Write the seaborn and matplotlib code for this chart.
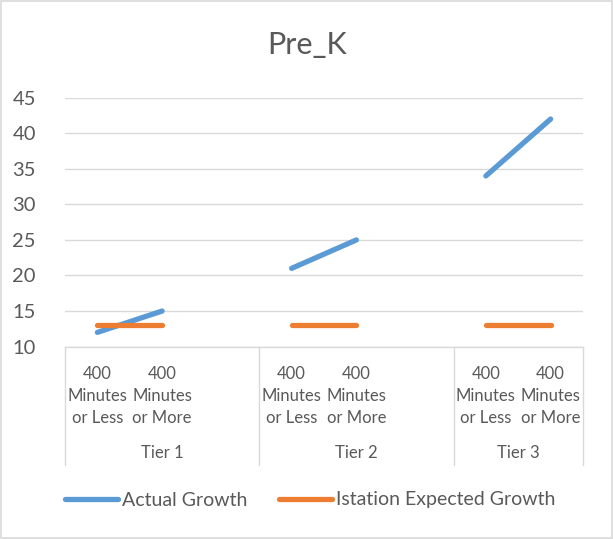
import matplotlib
matplotlib.use("Agg")
import matplotlib.pyplot as plt
import matplotlib.transforms as mtransforms
from matplotlib.patches import Rectangle
import numpy as np
import pandas as pd
import seaborn as sns

# ---- data ----
tiers = ["Tier 1", "Tier 2", "Tier 3"]
groups = ["400\nMinutes\nor Less", "400\nMinutes\nor More"]
actual_growth = [12, 15, 21, 25, 34, 42]
expected_growth = [13, 13, 13, 13, 13, 13]
series_names = ["Actual Growth", "Istation Expected Growth"]
y_ticks = [10, 15, 20, 25, 30, 35, 40, 45]

# category slots: each tier has its two groups, tiers 1 and 2 followed by an empty slot
slot_labels = []
slot_tier = []
for i, t in enumerate(tiers):
    for g in groups:
        slot_labels.append(g)
        slot_tier.append(t)
    if i < len(tiers) - 1:
        slot_labels.append("")
        slot_tier.append(t)
slot_pos = list(range(len(slot_labels)))
data_pos = [p for p, lab in zip(slot_pos, slot_labels) if lab != ""]
data_tier = [t for t, lab in zip(slot_tier, slot_labels) if lab != ""]

rows = []
for name, vals in zip(series_names, [actual_growth, expected_growth]):
    for p, t, v in zip(data_pos, data_tier, vals):
        rows.append({"pos": p, "tier": t, "value": v, "series": name})
df = pd.DataFrame(rows)

sns.set_theme(style="white")
FONT = ["Lato", "DejaVu Sans"]
plt.rcParams["font.family"] = FONT
TXT = "#595959"
GRID = "#D9D9D9"
colors = {"Actual Growth": "#5B9BD5", "Istation Expected Growth": "#ED7D31"}

fig = plt.figure(figsize=(6.13, 5.39), dpi=100)
W, H = 613, 539
left, right, top, bottom = 65, 583, 97.7, 346.6
ax = fig.add_axes([left / W, 1 - bottom / H, (right - left) / W, (bottom - top) / H])

sns.lineplot(data=df, x="pos", y="value", hue="series", units="tier",
             estimator=None, palette=colors, linewidth=3.8, ax=ax,
             solid_capstyle="round", legend=False)

ax.set_xlim(-0.5, len(slot_labels) - 0.5)
ax.set_ylim(min(y_ticks), max(y_ticks))
ax.set_yticks(y_ticks)
ax.set_yticklabels([str(v) for v in y_ticks], fontsize=14.5, color=TXT)
ax.tick_params(axis="y", length=0, pad=21)
ax.yaxis.grid(True, color=GRID, linewidth=1)
ax.set_axisbelow(True)
ax.set_xticks(slot_pos)
ax.set_xticklabels(slot_labels, fontsize=12, color=TXT, linespacing=1.45, va="top")
ax.tick_params(axis="x", length=0, pad=14)
ax.set_xlabel("")
ax.set_ylabel("")
for s in ["top", "right", "left"]:
    ax.spines[s].set_visible(False)
ax.spines["bottom"].set_color(GRID)
ax.spines["bottom"].set_linewidth(1)

# multi-level axis: separators and tier labels
trans = mtransforms.blended_transform_factory(ax.transData, ax.transAxes)
axh = bottom - top
sep_bottom = -(465 - bottom) / axh
bounds = [-0.5]
for i, t in enumerate(tiers):
    idx = [p for p, tt in zip(slot_pos, slot_tier) if tt == t]
    bounds.append(max(idx) + 0.5)
for b in bounds:
    ax.plot([b, b], [0, sep_bottom], transform=trans, color=GRID, lw=1, clip_on=False)
for i, t in enumerate(tiers):
    c = (bounds[i] + bounds[i + 1]) / 2
    ax.text(c, -(453 - bottom) / axh, t, transform=trans, ha="center", va="center",
            fontsize=12, color=TXT)

fig.text(307 / W, 1 - 45 / H, "Pre_K", ha="center", va="center", fontsize=22, color=TXT)

handles = [plt.Line2D([], [], color=colors[n], lw=3.8, solid_capstyle="round") for n in series_names]
fig.legend(handles, series_names, loc="center", bbox_to_anchor=(310 / W, 1 - 500 / H),
           ncol=2, frameon=False, fontsize=14, handlelength=2.75, handletextpad=0.2,
           columnspacing=1.6, labelcolor=TXT)

fig.patches.append(Rectangle((0.001, 0.001), 0.997, 0.997, transform=fig.transFigure,
                             fill=False, edgecolor=GRID, lw=1.2))

fig.savefig("out.png", dpi=100)
